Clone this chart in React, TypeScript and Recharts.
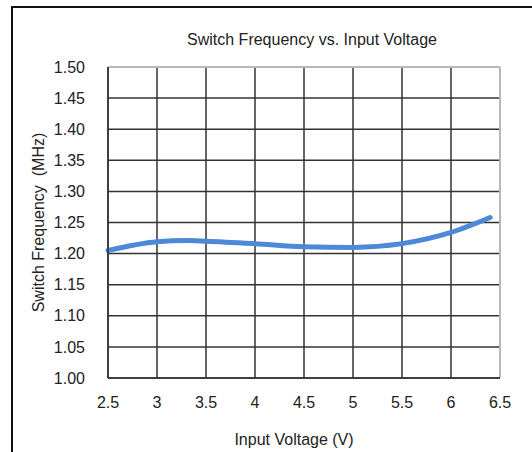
import React from 'react';
import { LineChart, Line, XAxis, YAxis, CartesianGrid, ReferenceLine, Label } from 'recharts';

const voltage = [2.5, 3, 3.3, 3.5, 4, 4.5, 5, 5.5, 6, 6.4];
const frequency = [1.205, 1.219, 1.221, 1.22, 1.216, 1.211, 1.21, 1.216, 1.234, 1.258];
const xTicks = [2.5, 3, 3.5, 4, 4.5, 5, 5.5, 6, 6.5];
const yTicks = [1.0, 1.05, 1.1, 1.15, 1.2, 1.25, 1.3, 1.35, 1.4, 1.45, 1.5];

const data = voltage.map((v, i) => ({ v, f: frequency[i] }));

const font = '"Liberation Sans Narrow", "Arial Narrow", "Liberation Sans", Arial, sans-serif';
const ink = '#222';

export default function App() {
  return (
    <div style={{ position: 'absolute', left: 0, top: 0, width: 532, height: 452, overflow: 'hidden', background: '#fff' }}>
      {/* frame */}
      <div style={{ position: 'absolute', left: 11, top: 6, width: 600, height: 500, borderTop: '2px solid #111', borderLeft: '2px solid #111' }} />
      <div style={{ position: 'absolute', left: 0, top: 30, width: 624, textAlign: 'center', fontFamily: font, fontSize: 16, color: ink, lineHeight: '20px' }}>
        Switch Frequency vs. Input Voltage
      </div>
      <div style={{ position: 'absolute', left: 0, top: 0 }}>
        <LineChart width={532} height={452} data={data} margin={{ top: 67, right: 32, left: 0, bottom: 0 }}>
          <CartesianGrid stroke="#333" strokeWidth={1.5} />
          <XAxis
            dataKey="v"
            type="number"
            domain={[2.5, 6.5]}
            ticks={xTicks}
            height={74}
            tickSize={0}
            tickMargin={19}
            axisLine={{ stroke: '#333', strokeWidth: 1.5 }}
            tick={{ fill: ink, fontFamily: font, fontSize: 16 }}
          >
            <Label
              content={({ viewBox }: any) => (
                <text x={viewBox.x + viewBox.width / 2 - 10} y={439} textAnchor="middle" dominantBaseline="central" fill={ink} fontFamily={font} fontSize={16}>
                  Input Voltage (V)
                </text>
              )}
            />
          </XAxis>
          <YAxis
            type="number"
            domain={[1.0, 1.5]}
            ticks={yTicks}
            width={108}
            tickSize={0}
            tickMargin={23}
            axisLine={{ stroke: '#333', strokeWidth: 1.5 }}
            tickFormatter={(t: number) => t.toFixed(2)}
            tick={{ fill: ink, fontFamily: font, fontSize: 16 }}
          >
            <Label
              content={({ viewBox }: any) => {
                const cy = viewBox.y + viewBox.height / 2;
                return (
                  <text x={38} y={cy} transform={`rotate(-90 38 ${cy})`} textAnchor="middle" dominantBaseline="central" fill={ink} fontFamily={font} fontSize={16} style={{ whiteSpace: 'pre' }}>
                    {'Switch Frequency  (MHz)'}
                  </text>
                );
              }}
            />
          </YAxis>
          <ReferenceLine y={1.5} stroke="#b8b8b8" strokeWidth={2} />
          <ReferenceLine x={6.5} stroke="#b8b8b8" strokeWidth={2} />
          <Line type="monotone" dataKey="f" stroke="#4e88d8" strokeWidth={5} dot={false} strokeLinecap="round" isAnimationActive={false} />
        </LineChart>
      </div>
    </div>
  );
}
